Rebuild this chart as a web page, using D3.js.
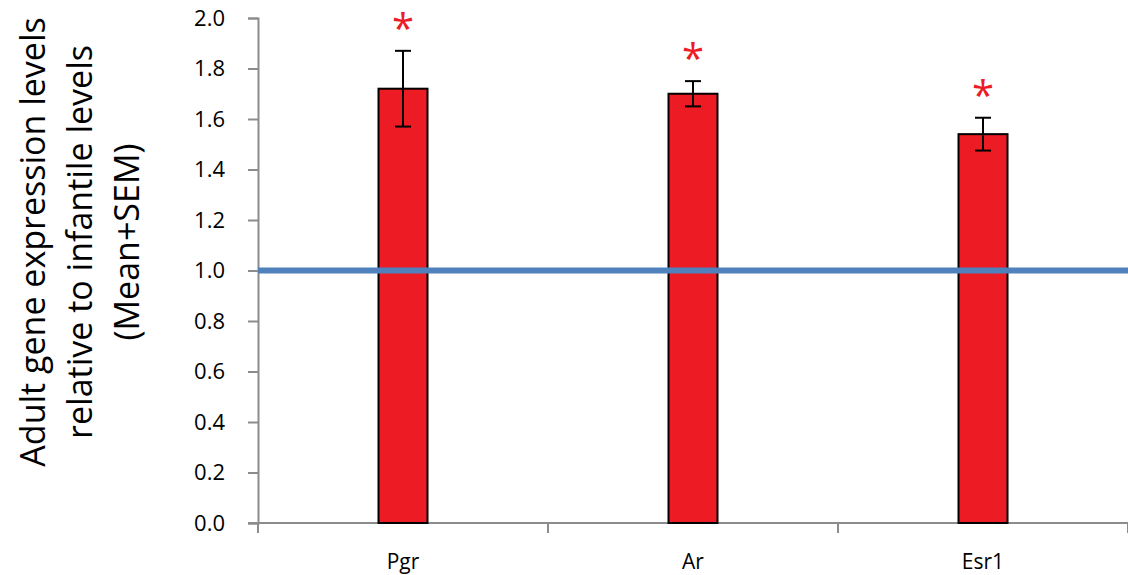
<!DOCTYPE html>
<html>
<head>
<script src="https://d3js.org/d3.v7.min.js"></script>
<style>
  body { margin: 0; background: #fff; }
  svg { display: block; font-family: 'Open Sans', 'Noto Sans', sans-serif; }
</style>
</head>
<body>
<svg id="chart"></svg>
<script>
// values
var genes = ["Pgr", "Ar", "Esr1"];
var means = [1.72, 1.70, 1.54];
var sems = [0.15, 0.05, 0.065];
var yTicks = [0, 0.2, 0.4, 0.6, 0.8, 1.0, 1.2, 1.4, 1.6, 1.8, 2.0];
var refLevel = 1.0;
var titleLines = ["Adult gene expression levels", "relative to infantile levels", "(Mean+SEM)"];

var width = 1128, height = 575;
var plotLeft = 258, plotRight = 1128, plotTop = 18, plotBottom = 523;

var svg = d3.select("#chart").attr("width", width).attr("height", height);

var x = d3.scaleBand().domain(genes).range([plotLeft, plotRight]);
var y = d3.scaleLinear().domain([0, 2]).range([plotBottom, plotTop]);

// y axis: line and ticks from d3, labels drawn separately
var yAxis = svg.append("g")
  .attr("transform", "translate(" + plotLeft + ",0)")
  .call(d3.axisLeft(y).tickValues(yTicks).tickFormat("").tickSizeOuter(0).tickSize(10));
yAxis.select(".domain").attr("stroke", "#8c8c8c").attr("stroke-width", 2);
yAxis.selectAll(".tick line").attr("stroke", "#8c8c8c").attr("stroke-width", 2);

svg.selectAll(".ylabel").data(yTicks).enter().append("text")
  .attr("x", plotLeft - 33)
  .attr("y", function(d) { return y(d); })
  .attr("dy", "0.36em")
  .attr("text-anchor", "end")
  .style("font-size", "22px")
  .text(d3.format(".1f"));

// x axis line plus boundary ticks
svg.append("line")
  .attr("x1", plotLeft - 10).attr("x2", plotRight)
  .attr("y1", y(0)).attr("y2", y(0))
  .attr("stroke", "#8c8c8c").attr("stroke-width", 2);
var bounds = genes.map(function(g) { return x(g); }).concat([plotRight]);
svg.selectAll(".xtick").data(bounds).enter().append("line")
  .attr("x1", function(d) { return d; }).attr("x2", function(d) { return d; })
  .attr("y1", y(0)).attr("y2", y(0) + 10)
  .attr("stroke", "#8c8c8c").attr("stroke-width", 2);

svg.selectAll(".xlabel").data(genes).enter().append("text")
  .attr("x", function(d) { return x(d) + x.bandwidth() / 2; })
  .attr("y", 561)
  .attr("dy", "0.36em")
  .attr("text-anchor", "middle")
  .style("font-size", "21px")
  .text(function(d) { return d; });

// bars
var barW = 49;
svg.selectAll(".bar").data(genes).enter().append("rect")
  .attr("x", function(d) { return x(d) + x.bandwidth() / 2 - barW / 2; })
  .attr("y", function(d, i) { return y(means[i]); })
  .attr("width", barW)
  .attr("height", function(d, i) { return y(0) - y(means[i]); })
  .attr("fill", "#ed1c24")
  .attr("stroke", "#000")
  .attr("stroke-width", 2);

// reference line at 1.0
svg.append("line")
  .attr("x1", plotLeft).attr("x2", plotRight)
  .attr("y1", y(refLevel)).attr("y2", y(refLevel))
  .attr("stroke", "#4f81bd").attr("stroke-width", 6);

// error bars
var capW = 16;
var eb = svg.selectAll(".err").data(genes).enter().append("g");
eb.append("line")
  .attr("x1", function(d) { return x(d) + x.bandwidth() / 2; })
  .attr("x2", function(d) { return x(d) + x.bandwidth() / 2; })
  .attr("y1", function(d, i) { return y(means[i] - sems[i]); })
  .attr("y2", function(d, i) { return y(means[i] + sems[i]); })
  .attr("stroke", "#000").attr("stroke-width", 2);
[1, -1].forEach(function(s) {
  eb.append("line")
    .attr("x1", function(d) { return x(d) + x.bandwidth() / 2 - capW / 2; })
    .attr("x2", function(d) { return x(d) + x.bandwidth() / 2 + capW / 2; })
    .attr("y1", function(d, i) { return y(means[i] + s * sems[i]); })
    .attr("y2", function(d, i) { return y(means[i] + s * sems[i]); })
    .attr("stroke", "#000").attr("stroke-width", 2);
});

// significance stars
svg.selectAll(".star").data(genes).enter().append("text")
  .attr("x", function(d) { return x(d) + x.bandwidth() / 2; })
  .attr("y", function(d, i) { return y(means[i] + sems[i]) - 8; })
  .attr("text-anchor", "middle")
  .style("font-size", "40px")
  .attr("fill", "#ed1c24")
  .text("*");

// y title
var title = svg.append("text")
  .attr("transform", "translate(80,242) rotate(-90)")
  .attr("text-anchor", "middle")
  .style("font-size", "34px");
titleLines.forEach(function(t, i) {
  title.append("tspan")
    .attr("x", 0)
    .attr("y", (i - 1) * 47 + 12)
    .text(t);
});
</script>
</body>
</html>
